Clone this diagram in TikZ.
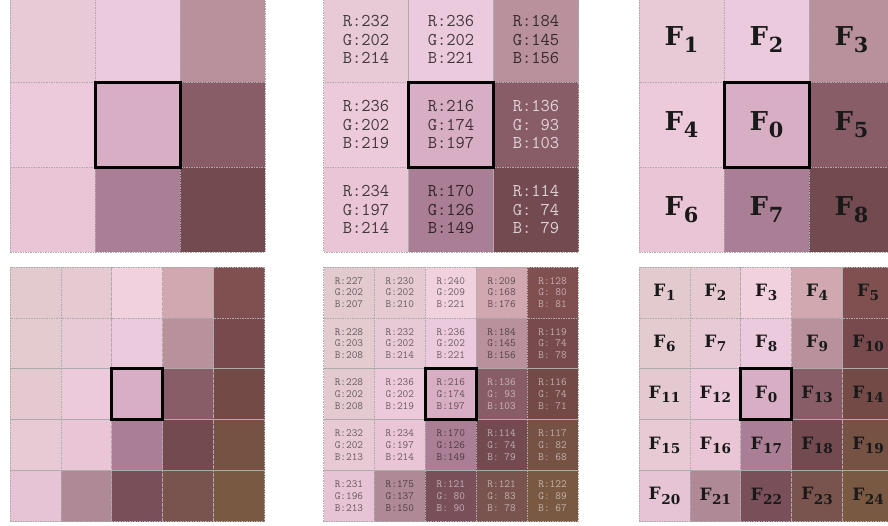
\documentclass[tikz,border=0pt]{standalone}
\usepackage{fontspec}
\setmainfont{DejaVu Serif}

% 数字不足三位时前面补空格
\newcommand{\padnum}[1]{\ifnum#1<100 ~\fi#1}
% 带下标的 F
\newcommand{\Fsub}[1]{F\kern0.03em\raisebox{-0.26em}{\scalebox{0.8}{#1}}}

% 3x3 与 5x5 窗口的像素值 (R/G/B/编号)
\def\topcells{232/202/214/1, 236/202/221/2, 184/145/156/3,
  236/202/219/4, 216/174/197/0, 136/93/103/5,
  234/197/214/6, 170/126/149/7, 114/74/79/8}
\def\botcells{227/202/207/1, 230/202/210/2, 240/209/221/3, 209/168/176/4, 128/80/81/5,
  228/203/208/6, 232/202/214/7, 236/202/221/8, 184/145/156/9, 119/74/78/10,
  228/202/208/11, 236/202/219/12, 216/174/197/0, 136/93/103/13, 116/74/71/14,
  232/202/213/15, 234/197/214/16, 170/126/149/17, 114/74/79/18, 117/82/68/19,
  231/196/213/20, 175/137/150/21, 121/80/90/22, 121/83/78/23, 122/89/67/24}

\tikzset{
  bigcell/.style={draw=gray!65, dash pattern=on 1.5pt off 1pt, line width=0.7pt,
    minimum size=85pt, inner sep=0pt, outer sep=0pt},
  smallcell/.style={bigcell, minimum size=50.9pt},
  focus/.style={draw=black, line width=3pt},
  bigrgb/.style={font=\ttfamily\fontsize{18}{18.5}\selectfont, align=left},
  smallrgb/.style={font=\ttfamily\fontsize{11}{11.7}\selectfont, align=left},
  bigF/.style={font=\bfseries\fontsize{26}{26}\selectfont},
  smallF/.style={font=\bfseries\fontsize{17}{17}\selectfont},
}

\begin{document}
\begin{tikzpicture}[x=1pt, y=-1pt]
  \useasboundingbox (0,0) rectangle (888,525);
  \clip (0,0) rectangle (888,525);

  % --- 上排：3x3 窗口 ---
  \begin{scope}[shift={(10,-3)}]
    \foreach \vr/\vg/\vb/\fn [count=\i from 0] in \topcells {
      \pgfmathtruncatemacro\col{mod(\i,3)}
      \pgfmathtruncatemacro\row{div(\i,3)}
      \definecolor{cc}{RGB}{\vr,\vg,\vb}
      \node[bigcell, fill=cc] (tl\i) at (42.5+85*\col, 42.5+85*\row) {};
    }
    \draw[focus] (tl4.north west) rectangle (tl4.south east);
  \end{scope}

  \begin{scope}[shift={(323.5,-3)}]
    \foreach \vr/\vg/\vb/\fn [count=\i from 0] in \topcells {
      \pgfmathtruncatemacro\col{mod(\i,3)}
      \pgfmathtruncatemacro\row{div(\i,3)}
      \definecolor{cc}{RGB}{\vr,\vg,\vb}
      \ifnum\vr<150 \colorlet{tc}{white!75!cc}\else\colorlet{tc}{black!72!cc}\fi
      \node[bigcell, bigrgb, fill=cc, text=tc] (tm\i) at (42.5+85*\col, 42.5+85*\row)
        {R:\padnum{\vr}\\G:\padnum{\vg}\\B:\padnum{\vb}};
    }
    \draw[focus] (tm4.north west) rectangle (tm4.south east);
  \end{scope}

  \begin{scope}[shift={(639,-3)}]
    \foreach \vr/\vg/\vb/\fn [count=\i from 0] in \topcells {
      \pgfmathtruncatemacro\col{mod(\i,3)}
      \pgfmathtruncatemacro\row{div(\i,3)}
      \definecolor{cc}{RGB}{\vr,\vg,\vb}
      \node[bigcell, bigF, fill=cc, text=black!90] (tr\i) at (42.5+85*\col, 42.5+85*\row) {\Fsub{\fn}};
    }
    \draw[focus] (tr4.north west) rectangle (tr4.south east);
  \end{scope}

  % --- 下排：5x5 窗口 ---
  \begin{scope}[shift={(10,267)}]
    \foreach \vr/\vg/\vb/\fn [count=\i from 0] in \botcells {
      \pgfmathtruncatemacro\col{mod(\i,5)}
      \pgfmathtruncatemacro\row{div(\i,5)}
      \definecolor{cc}{RGB}{\vr,\vg,\vb}
      \node[smallcell, fill=cc] (bl\i) at (25.45+50.9*\col, 25.45+50.9*\row) {};
    }
    \draw[focus] (bl12.north west) rectangle (bl12.south east);
  \end{scope}

  \begin{scope}[shift={(323.5,267)}]
    \foreach \vr/\vg/\vb/\fn [count=\i from 0] in \botcells {
      \pgfmathtruncatemacro\col{mod(\i,5)}
      \pgfmathtruncatemacro\row{div(\i,5)}
      \definecolor{cc}{RGB}{\vr,\vg,\vb}
      \ifnum\vr<150 \colorlet{tc}{white!55!cc}\else\colorlet{tc}{black!55!cc}\fi
      \node[smallcell, smallrgb, fill=cc, text=tc] (bm\i) at (25.45+50.9*\col, 25.45+50.9*\row)
        {R:\padnum{\vr}\\G:\padnum{\vg}\\B:\padnum{\vb}};
    }
    \draw[focus] (bm12.north west) rectangle (bm12.south east);
  \end{scope}

  \begin{scope}[shift={(639,267)}]
    \foreach \vr/\vg/\vb/\fn [count=\i from 0] in \botcells {
      \pgfmathtruncatemacro\col{mod(\i,5)}
      \pgfmathtruncatemacro\row{div(\i,5)}
      \definecolor{cc}{RGB}{\vr,\vg,\vb}
      \node[smallcell, smallF, fill=cc, text=black!90] (br\i) at (25.45+50.9*\col, 25.45+50.9*\row) {\Fsub{\fn}};
    }
    \draw[focus] (br12.north west) rectangle (br12.south east);
  \end{scope}
\end{tikzpicture}
\end{document}
